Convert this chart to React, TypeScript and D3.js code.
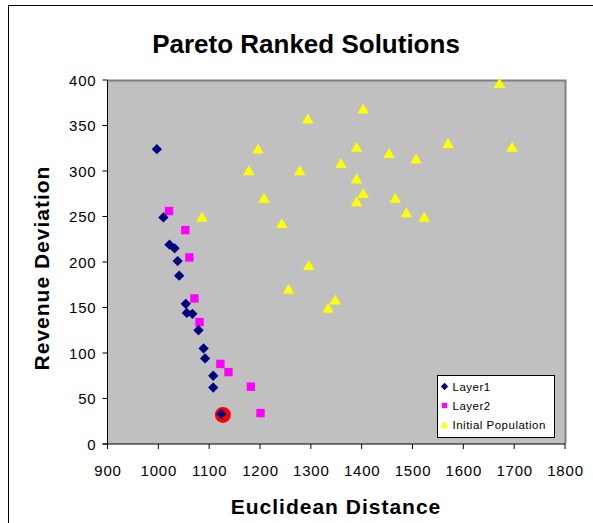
import * as d3 from "d3";

const layer1X = [997, 1010, 1022, 1032, 1038, 1041, 1054, 1056, 1067, 1079, 1089, 1092, 1108, 1108, 1124];
const layer1Y = [324, 249, 219, 215, 201, 185, 154, 144, 143, 125, 105, 94, 75, 62, 33];

const layer2X = [1021, 1053, 1061, 1071, 1081, 1122, 1138, 1182, 1201];
const layer2Y = [256, 235, 205, 160, 134, 88, 79, 63, 34];

const initX = [1671, 1403, 1294, 1570, 1696, 1196, 1390, 1454, 1507, 1359, 1278, 1178, 1390, 1403, 1390, 1466, 1488, 1523, 1208, 1243, 1296, 1256, 1348, 1334, 1086];
const initY = [396, 368, 357, 330, 326, 324, 326, 319, 313, 308, 300, 300, 291, 275, 266, 270, 254, 249, 270, 242, 196, 170, 158, 149, 249];

// best solution, circled in red
const bestX = [1127];
const bestY = [32];

const xTicks = [900, 1000, 1100, 1200, 1300, 1400, 1500, 1600, 1700, 1800];
const yTicks = [0, 50, 100, 150, 200, 250, 300, 350, 400];

const font = "'Liberation Sans', Arial, sans-serif";

export default function App() {
  const left = 107.5, right = 565, top = 80, bottom = 444;
  const x = d3.scaleLinear().domain([900, 1800]).range([left, right]);
  const y = d3.scaleLinear().domain([0, 400]).range([bottom, top]);

  const diamond = d3.symbol().type(d3.symbolDiamond2).size(68)();
  const square = d3.symbol().type(d3.symbolSquare2).size(90)();
  const tri = d3.symbol().type(d3.symbolTriangle2).size(95)();

  const l1 = layer1X.map((v, i) => [v, layer1Y[i]]);
  const l2 = layer2X.map((v, i) => [v, layer2Y[i]]);
  const ip = initX.map((v, i) => [v, initY[i]]);
  const best = bestX.map((v, i) => [v, bestY[i]]);

  return (
    <svg width={593} height={523} style={{ position: "absolute", left: 0, top: 0 }} fontFamily={font}>
      <rect x={0} y={0} width={593} height={523} fill="#fff" />
      <rect x={8.5} y={5.5} width={600} height={540} fill="none" stroke="#000" strokeWidth={1} />
      <text x={306} y={53} textAnchor="middle" fontSize={26} fontWeight="bold">Pareto Ranked Solutions</text>

      <rect x={left} y={top} width={right - left} height={bottom - top} fill="#c0c0c0" />
      <path d={`M${left},${top + 0.5}H${right + 0.5}V${bottom}`} fill="none" stroke="#808080" strokeWidth={2} />

      {ip.map((d, i) => (
        <path key={"t" + i} d={tri!} transform={`translate(${x(d[0])},${y(d[1]) + 1})`} fill="#ffff00" />
      ))}
      {best.map((d, i) => (
        <circle key={"b" + i} cx={x(d[0])} cy={y(d[1])} r={8} fill="#ff0000" />
      ))}
      {l2.map((d, i) => (
        <path key={"s" + i} d={square!} transform={`translate(${x(d[0])},${y(d[1])})`} fill="#ff00ff" />
      ))}
      {l1.map((d, i) => (
        <path key={"d" + i} d={diamond!} transform={`translate(${x(d[0])},${y(d[1])})`} fill="#000080" />
      ))}

      {/* axes */}
      <line x1={left} x2={left} y1={top} y2={bottom + 5} stroke="#000" />
      <line x1={left - 5} x2={right} y1={bottom} y2={bottom} stroke="#000" />
      {yTicks.map(t => (
        <g key={"yt" + t}>
          <line x1={left - 5} x2={left} y1={y(t)} y2={y(t)} stroke="#000" />
          <text x={left - 11} y={y(t) + 5.5} textAnchor="end" fontSize={15} letterSpacing={0.8}>{t}</text>
        </g>
      ))}
      {xTicks.map(t => (
        <g key={"xt" + t}>
          <line x1={x(t)} x2={x(t)} y1={bottom} y2={bottom + 5} stroke="#000" />
          <text x={x(t) + 0.5} y={476} textAnchor="middle" fontSize={15} letterSpacing={0.8}>{t}</text>
        </g>
      ))}

      <text x={336} y={514} textAnchor="middle" fontSize={21} fontWeight="bold" letterSpacing={1}>Euclidean Distance</text>
      <text transform="translate(49,268) rotate(-90)" textAnchor="middle" fontSize={21} fontWeight="bold" letterSpacing={1}>Revenue Deviation</text>

      {/* legend */}
      <g transform="translate(437.5,375.5)">
        <rect width={117} height={62} fill="#fff" stroke="#000" />
        <path d={d3.symbol().type(d3.symbolDiamond2).size(34)()!} transform="translate(7,11)" fill="#000080" />
        <text x={15} y={15} fontSize={11.5} letterSpacing={0.5}>Layer1</text>
        <path d={d3.symbol().type(d3.symbolSquare2).size(36)()!} transform="translate(7,30)" fill="#ff00ff" />
        <text x={15} y={34} fontSize={11.5} letterSpacing={0.5}>Layer2</text>
        <path d={d3.symbol().type(d3.symbolTriangle2).size(45)()!} transform="translate(7,50)" fill="#ffff00" />
        <text x={15} y={53} fontSize={11.5} letterSpacing={0.5}>Initial Population</text>
      </g>
    </svg>
  );
}
